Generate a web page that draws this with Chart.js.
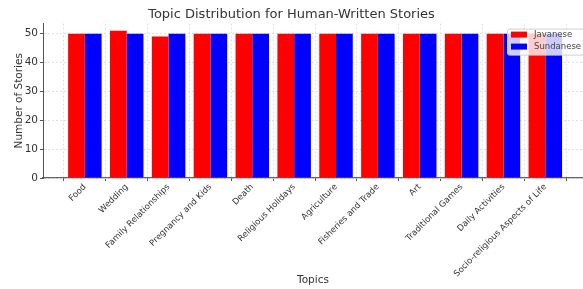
<!DOCTYPE html>
<html>
<head>
<meta charset="utf-8">
<script src="https://cdn.jsdelivr.net/npm/chart.js@4"></script>
<style>
  html, body { margin: 0; padding: 0; background: #fff; }
  #wrap { width: 583px; height: 289px; }
</style>
</head>
<body>
<div id="wrap"><canvas id="chart"></canvas></div>
<script>
const topics = ['Food', 'Wedding', 'Family Relationships', 'Pregnancy and Kids', 'Death',
    'Religious Holidays', 'Agriculture', 'Fisheries and Trade', 'Art', 'Traditional Games',
    'Daily Activities', 'Socio-religious Aspects of Life'];
const javanese = [50, 51, 49, 50, 50, 50, 50, 50, 50, 50, 50, 50];
const sundanese = [50, 50, 50, 50, 50, 50, 50, 50, 50, 50, 50, 50];
const yTicks = [0, 10, 20, 30, 40, 50];

Chart.defaults.font.family = '"DejaVu Sans", sans-serif';
Chart.defaults.color = '#333';

// legend drawn inside the plot, upper right, like matplotlib
const insideLegend = {
    id: 'insideLegend',
    afterDatasetsDraw(chart) {
        const ctx = chart.ctx;
        const area = chart.chartArea;
        const x = area.right - 76, y = area.top + 5;
        ctx.save();
        ctx.fillStyle = 'rgba(255,255,255,0.8)';
        ctx.strokeStyle = '#d0d0d0';
        ctx.lineWidth = 1;
        ctx.beginPath();
        ctx.roundRect(x + 0.5, y + 0.5, 80, 26, 2);
        ctx.fill();
        ctx.stroke();
        ctx.font = '8.5px "DejaVu Sans"';
        ctx.textBaseline = 'middle';
        chart.data.datasets.forEach((ds, i) => {
            const ry = y + 3 + i * 12;
            ctx.fillStyle = ds.backgroundColor;
            ctx.fillRect(x + 4, ry, 16, 6);
            ctx.fillStyle = '#444';
            ctx.fillText(ds.label, x + 27, ry + 3);
        });
        ctx.restore();
    }
};

new Chart(document.getElementById('chart'), {
    type: 'bar',
    data: {
        datasets: [
            { label: 'Javanese', data: javanese.map((v, i) => ({ x: i, y: v })), backgroundColor: '#ff0000' },
            { label: 'Sundanese', data: sundanese.map((v, i) => ({ x: i, y: v })), backgroundColor: '#0000ff' },
        ],
    },
    options: {
        responsive: true,
        maintainAspectRatio: false,
        animation: false,
        layout: { padding: 0 },
        datasets: { bar: { categoryPercentage: 0.8, barPercentage: 1.0 } },
        plugins: {
            legend: { display: false },
            tooltip: { enabled: false },
            title: {
                display: true,
                text: 'Topic Distribution for Human-Written Stories',
                font: { size: 13, weight: 'normal' },
                color: '#333',
                padding: { top: 7, bottom: 1 },
            },
        },
        scales: {
            x: {
                type: 'linear',
                min: -1,
                max: 11.9,
                offset: false,
                afterBuildTicks: (scale) => { scale.ticks = topics.map((t, i) => ({ value: i })); },
                afterFit: (scale) => { scale.height = 111; },
                ticks: {
                    autoSkip: false,
                    minRotation: 45,
                    maxRotation: 45,
                    font: { size: 8.5 },
                    padding: 1,
                    callback: (v) => topics[v],
                },
                grid: { color: '#e0e0e0', tickLength: 3, tickColor: '#555' },
                border: { color: '#666', dash: [2, 2], width: 1.2 },
                title: { display: true, text: 'Topics', font: { size: 10.5 }, padding: { top: 0, bottom: 2 } },
            },
            y: {
                min: 0,
                max: 53.5,
                afterBuildTicks: (scale) => { scale.ticks = yTicks.map(v => ({ value: v })); },
                afterFit: (scale) => { scale.width = 43; },
                ticks: { font: { size: 10.5 }, padding: 2 },
                grid: { color: '#e0e0e0', tickLength: 3, tickColor: '#555' },
                border: { color: '#555', dash: [2, 2], width: 1 },
                title: { display: true, text: 'Number of Stories', font: { size: 10.5 }, padding: { top: 13, bottom: 0 } },
            },
        },
    },
    plugins: [insideLegend],
});
</script>
</body>
</html>
